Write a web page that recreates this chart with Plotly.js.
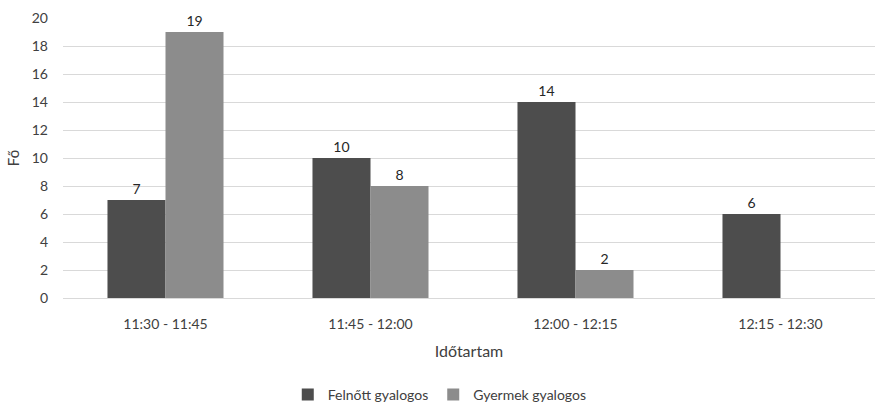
<!DOCTYPE html>
<html>
<head>
<meta charset="utf-8">
<script src="https://cdn.plot.ly/plotly-3.0.1.min.js"></script>
<style>html,body{margin:0;padding:0;background:#fff;}#chart{width:875px;height:404px;}</style>
</head>
<body>
<div id="chart"></div>
<script>
const categories = ["11:30 - 11:45", "11:45 - 12:00", "12:00 - 12:15", "12:15 - 12:30"];
const felnott = [7, 10, 14, 6];
const gyermek = [19, 8, 2, null];
const seriesNames = ["Felnőtt gyalogos", "Gyermek gyalogos"];
const yTicks = [0, 2, 4, 6, 8, 10, 12, 14, 16, 18, 20];

const font = {family: "Lato, 'Open Sans', sans-serif", size: 14, color: "#404040"};

const traces = [
  {type: "bar", name: seriesNames[0], x: categories, y: felnott,
   marker: {color: "#4d4d4d"}, texttemplate: "%{y}", textposition: "outside",
   textfont: {family: font.family, size: 14, color: "#262626"}, cliponaxis: false},
  {type: "bar", name: seriesNames[1], x: categories, y: gyermek,
   marker: {color: "#8c8c8c"}, texttemplate: "%{y}", textposition: "outside",
   textfont: {family: font.family, size: 14, color: "#262626"}, cliponaxis: false}
];

const layout = {
  width: 875, height: 404,
  margin: {l: 63, r: 0, t: 18, b: 106, autoexpand: false},
  paper_bgcolor: "#fff", plot_bgcolor: "#fff",
  font: font,
  barmode: "group", bargap: 0.434, bargroupgap: 0,
  showlegend: true,
  legend: {orientation: "h", x: 0.464, xanchor: "center", y: -0.346, yanchor: "middle",
           font: {family: font.family, size: 14, color: "#404040"}, itemwidth: 30, traceorder: "normal"},
  xaxis: {type: "category", range: [-0.5, 3.461], showgrid: false, zeroline: false,
          showline: false, ticks: "", tickfont: {size: 14, color: "#404040"}, ticklabelstandoff: 16,
          automargin: false,
          title: {text: "Időtartam", font: {size: 16, color: "#404040"}, standoff: 14}},
  yaxis: {range: [0, 20], tickvals: yTicks, showgrid: true, gridcolor: "#d9d9d9", gridwidth: 1,
          zeroline: true, zerolinecolor: "#d9d9d9", showline: false, ticks: "", automargin: false,
          tickfont: {size: 14, color: "#404040"}, ticklabelstandoff: 14,
          title: {text: "Fő", font: {size: 15, color: "#404040"}, standoff: 8}}
};

Plotly.newPlot("chart", traces, layout, {displayModeBar: false, staticPlot: true});
</script>
</body>
</html>
